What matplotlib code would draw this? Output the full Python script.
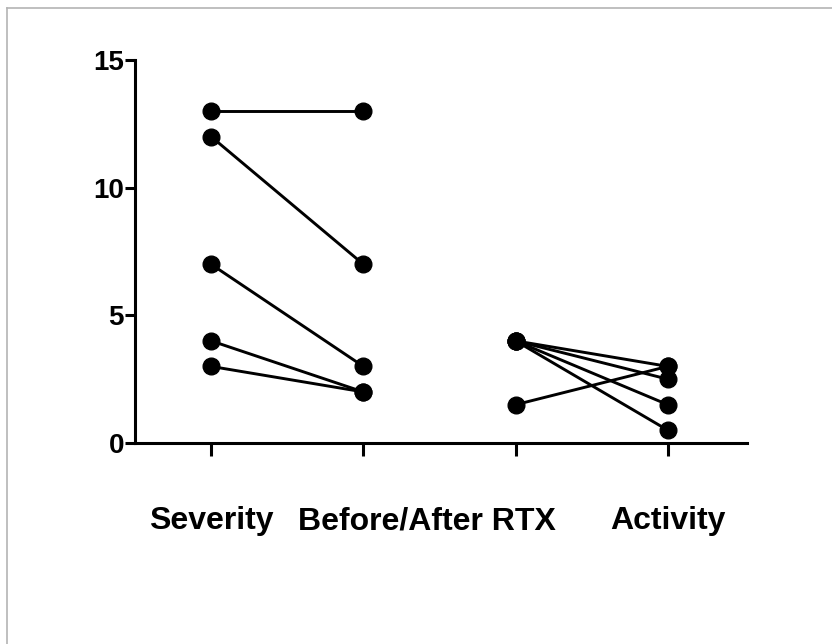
import matplotlib
matplotlib.use("Agg")
import matplotlib.pyplot as plt
from matplotlib.lines import Line2D
import matplotlib.transforms as mtransforms

# Data
group1_positions = [1, 2]
group1_pairs = [(13, 13), (12, 7), (7, 3), (4, 2), (3, 2)]
group2_positions = [3, 4]
group2_pairs = [(4, 3), (4, 2.5), (4, 1.5), (4, 0.5), (1.5, 3)]
y_ticks = [0, 5, 10, 15]
x_labels = ["Severity", "Before/After RTX", "Activity"]
x_label_pos = [1, 2.42, 4]

W, H = 832, 644
fig = plt.figure(figsize=(W / 100, H / 100), dpi=100)
ax = fig.add_axes([135 / W, (H - 443) / H, (747 - 135) / W, (443 - 60) / H])

for pos, pairs in [(group1_positions, group1_pairs), (group2_positions, group2_pairs)]:
    for a, b in pairs:
        ax.plot(pos, [a, b], color="black", lw=2.1, marker="o", ms=12,
                solid_capstyle="butt", clip_on=False, zorder=3)

ax.set_xlim(0.5, 4.52)
ax.set_ylim(0, 15)
ax.set_yticks(y_ticks)
ax.set_xticks([1, 2, 3, 4])
ax.set_xticklabels([])
ax.spines["top"].set_visible(False)
ax.spines["right"].set_visible(False)
for s in ["left", "bottom"]:
    ax.spines[s].set_linewidth(2.2)
ax.tick_params(axis="y", length=7, width=2.2, labelsize=20, pad=1)
ax.tick_params(axis="x", length=9, width=2.2)
for lab in ax.get_yticklabels():
    lab.set_fontfamily("Liberation Sans")
    lab.set_fontweight("bold")

trans = mtransforms.blended_transform_factory(ax.transData, fig.transFigure)
for lab, xp in zip(x_labels, x_label_pos):
    ax.text(xp, 1 - 521 / H, lab, transform=trans, ha="center", va="center",
            fontsize=23, fontweight="bold", family="Liberation Sans")

# Figure border (gray, top and left)
bc = "#b4b4b4"
fig.add_artist(Line2D([7.5 / W, 7.5 / W], [0, 1 - 7.5 / H], color=bc, lw=1.2))
fig.add_artist(Line2D([7.5 / W, 1], [1 - 7.5 / H, 1 - 7.5 / H], color=bc, lw=1.2))

fig.savefig("out.png", dpi=100)
